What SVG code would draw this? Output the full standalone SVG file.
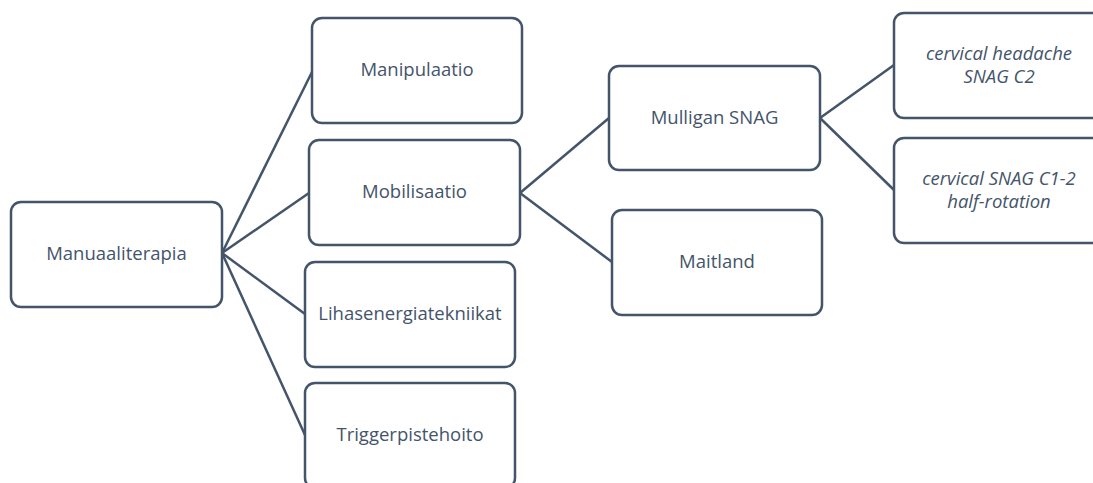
<svg xmlns="http://www.w3.org/2000/svg" width="1093" height="483" viewBox="0 0 1093 483">
<style>
.box{fill:#fff;stroke:#44546A;stroke-width:2.5}
.lbl{font-family:"Open Sans","Liberation Sans",sans-serif;font-size:18.5px;fill:#44546A;text-anchor:middle}
.it{font-style:italic}
.con{stroke:#44546A;stroke-width:2.5;fill:none}
</style>
<rect width="1093" height="483" fill="#fff"/>
<g id="connectors">
<line class="con" x1="222" y1="253" x2="312" y2="72"/>
<line class="con" x1="222" y1="253" x2="309" y2="193"/>
<line class="con" x1="222" y1="253" x2="305" y2="314"/>
<line class="con" x1="222" y1="253" x2="305" y2="435"/>
<line class="con" x1="520" y1="193" x2="609" y2="118"/>
<line class="con" x1="520" y1="193" x2="612" y2="262"/>
<line class="con" x1="820" y1="118" x2="894" y2="65"/>
<line class="con" x1="820" y1="118" x2="894" y2="190"/>
</g>
<g id="n-manuaaliterapia"><rect class="box" x="11" y="202" width="211" height="105" rx="10"/><text class="lbl" x="116.5" y="260">Manuaaliterapia</text></g>
<g id="n-manipulaatio"><rect class="box" x="312" y="18" width="210" height="105" rx="10"/><text class="lbl" x="417" y="76">Manipulaatio</text></g>
<g id="n-mobilisaatio"><rect class="box" x="309" y="140" width="211" height="105" rx="10"/><text class="lbl" x="414.5" y="198">Mobilisaatio</text></g>
<g id="n-lihas"><rect class="box" x="305" y="262" width="210" height="105" rx="10"/><text class="lbl" x="410" y="320">Lihasenergiatekniikat</text></g>
<g id="n-trigger"><rect class="box" x="305" y="383" width="210" height="105" rx="10"/><text class="lbl" x="410" y="441">Triggerpistehoito</text></g>
<g id="n-mulligan"><rect class="box" x="609" y="66" width="211" height="104" rx="10"/><text class="lbl" x="714.5" y="124">Mulligan SNAG</text></g>
<g id="n-maitland"><rect class="box" x="612" y="210" width="210" height="105" rx="10"/><text class="lbl" x="717" y="268">Maitland</text></g>
<g id="n-headache"><rect class="box" x="894" y="13" width="215" height="105" rx="10"/><text class="lbl it" x="999" y="60">cervical headache</text><text class="lbl it" x="999" y="83">SNAG C2</text></g>
<g id="n-c12"><rect class="box" x="894" y="138" width="215" height="105" rx="10"/><text class="lbl it" x="999" y="185">cervical SNAG C1-2</text><text class="lbl it" x="999" y="208">half-rotation</text></g>
</svg>
